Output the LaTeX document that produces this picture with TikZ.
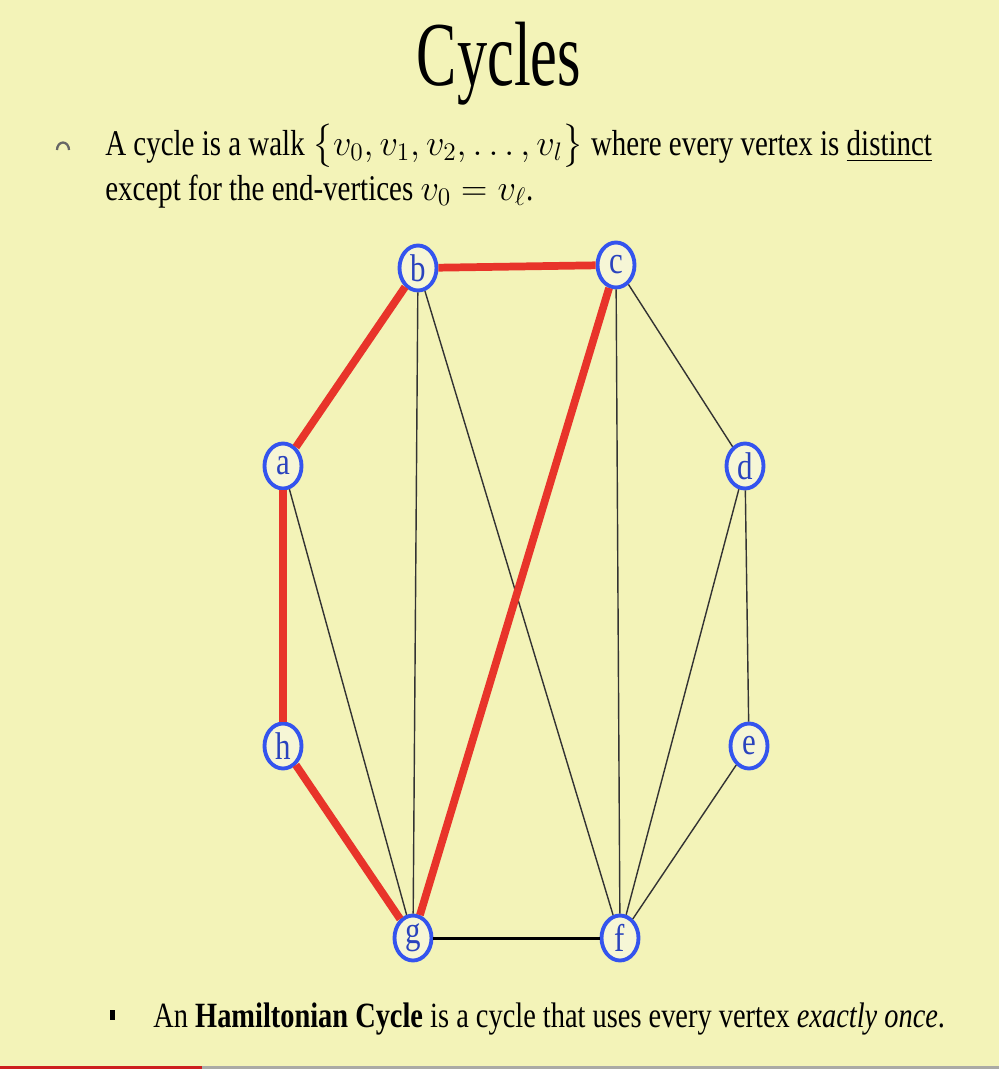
\documentclass[tikz,border=0pt]{standalone}
\usepackage{amsmath,amssymb}
\usepackage{fontspec}
\setmainfont{Liberation Serif}[FakeStretch=0.8]
\newfontfamily\titlefont{Liberation Serif}[FakeStretch=0.66]
\usepackage{tikz}
\usetikzlibrary{shapes.geometric}
\definecolor{slide}{RGB}{243,243,184}
\definecolor{vfill}{RGB}{246,246,214}
\definecolor{vblue}{RGB}{52,84,238}
\definecolor{cyc}{RGB}{232,52,42}
\definecolor{barred}{RGB}{205,30,30}
\definecolor{bargray}{RGB}{170,170,165}

\begin{document}
\begin{tikzpicture}[vertex/.style={ellipse,draw=vblue,line width=2.2pt,fill=vfill,minimum width=7.4mm,minimum height=9mm,inner sep=0pt,text=vblue!80!black,font=\fontsize{22}{22}\selectfont},edge/.style={line width=0.8pt,black!80},cycedge/.style={line width=4.4pt,cyc},txt/.style={inner sep=0pt,anchor=base west,font=\fontsize{20.6}{24}\selectfont}]
% slide
\fill[slide] (0,0) rectangle (19.98,-21.38);
\fill[bargray] (0,-21.32) rectangle (19.98,-21.38);
\fill[barred] (0,-21.32) rectangle (4.04,-21.38);
% heading and text
\node[inner sep=0pt,anchor=base,font=\titlefont\fontsize{52}{60}\selectfont] (title) at (9.98,-1.70) {Cycles};
\draw[black!60,line width=1.3pt] (1.14,-3.0) arc[start angle=180,end angle=0,x radius=0.12,y radius=0.15];
\node[txt] (line1) at (2.1,-3.1) {A cycle is a walk $\bigl\{v_0, v_1, v_2, \ldots, v_l\bigr\}$ where every vertex is \underline{distinct}};
\node[txt] (line2) at (2.1,-4.0) {except for the end-vertices $v_0 = v_\ell$.};
\fill[black] (2.2,-20.2) rectangle (2.3,-20.4);
\node[txt,font=\fontsize{20.2}{24}\selectfont] (note) at (3.06,-20.54) {An \textbf{Hamiltonian Cycle} is a cycle that uses every vertex \textit{exactly once}.};
% vertices
\node[vertex] (b) at (8.36,-5.36) {b};
\node[vertex] (c) at (12.32,-5.30) {c};
\node[vertex] (a) at (5.66,-9.32) {a};
\node[vertex] (d) at (14.90,-9.32) {d};
\node[vertex] (h) at (5.66,-14.92) {h};
\node[vertex] (e) at (14.98,-14.92) {e};
\node[vertex] (g) at (8.26,-18.76) {g};
\node[vertex] (f) at (12.40,-18.76) {f};
% edges
\draw[edge] (b) -- (g); \draw[edge] (b) -- (f); \draw[edge] (c) -- (f);
\draw[edge] (c) -- (d); \draw[edge] (d) -- (e); \draw[edge] (d) -- (f);
\draw[edge] (e) -- (f); \draw[edge] (a) -- (g);
\draw[edge,line width=1.7pt,black] (g) -- (f);
% the cycle
\draw[cycedge] (a) -- (b); \draw[cycedge] (b) -- (c); \draw[cycedge] (c) -- (g);
\draw[cycedge] (g) -- (h); \draw[cycedge] (h) -- (a);
\end{tikzpicture}
\end{document}
